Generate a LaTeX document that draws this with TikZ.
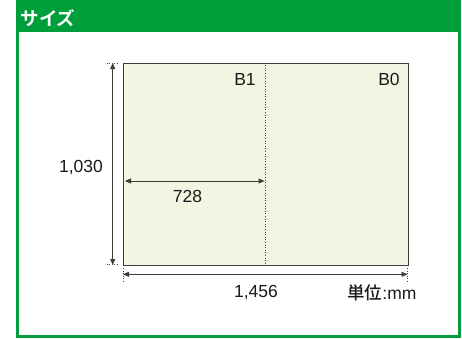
\documentclass[tikz,border=0pt]{standalone}
\usepackage{fontspec}
\setmainfont{Liberation Sans}
\newfontfamily\jpfont{Noto Sans CJK JP Medium}
\newfontfamily\jpboldfont{Noto Sans CJK JP Bold}
\usetikzlibrary{arrows.meta}
\definecolor{framegreen}{RGB}{0,158,59}
\definecolor{sheetfill}{RGB}{243,245,226}
\definecolor{linegray}{RGB}{60,60,60}
\tikzset{>/.tip={Triangle[length=6pt,width=5pt]},
  dim/.style={<->, draw=linegray, line width=0.9pt},
  ext/.style={draw=linegray, dotted, line width=0.6pt},
  lbl/.style={font=\fontsize{17.5}{19}\selectfont, text=black!90, inner sep=0pt}}

\begin{document}
\begin{tikzpicture}[x=1pt,y=-1pt]
\useasboundingbox (0,0) rectangle (462,338);
% frame and title bar
\fill[framegreen] (16,0) rectangle (461,32);
\draw[framegreen, line width=3pt] (17.5,30) -- (17.5,336) -- (459.5,336) -- (459.5,30);
\node[text=white, inner sep=0pt, font=\jpboldfont\fontsize{18.5}{20}\selectfont] (title) at (48,18) {サイズ};

% sheet
\node[draw=linegray, fill=sheetfill, line width=1pt, minimum width=285pt, minimum height=202pt, inner sep=0pt] (b0) at (265.5,164) {};
\draw[ext] (b0.north) -- (b0.south);
\node[lbl] (b1lbl) at (245,79) {B1};
\node[lbl] (b0lbl) at (389,79) {B0};

% height
\coordinate (htop) at (112.7,63);
\coordinate (hbot) at (112.7,265);
\coordinate (ht1) at (106.5,63);
\coordinate (ht2) at (119,63);
\coordinate (hb1) at (106.5,264.5);
\coordinate (hb2) at (117,264.5);
\draw[ext] (ht1) -- (ht2);
\draw[ext] (hb1) -- (hb2);
\draw[dim] (htop) -- (hbot);
\node[lbl] (hlbl) at (81,168) {1,030};

% width
\coordinate (wl) at (123,274.3);
\coordinate (wr) at (407.5,274.3);
\coordinate (wl1) at (123,268);
\coordinate (wl2) at (123,283);
\coordinate (wr1) at (407.5,268);
\coordinate (wr2) at (407.5,283);
\draw[ext] (wl1) -- (wl2);
\draw[ext] (wr1) -- (wr2);
\draw[dim] (wl) -- (wr);
\node[lbl] (wlbl) at (256,293) {1,456};
\node[lbl] (unit) at (382,293) {{\jpfont 単位}:mm};

% half width
\coordinate (hl) at (125,181);
\coordinate (hr) at (264.5,181);
\draw[dim] (hl) -- (hr);
\node[lbl] (halflbl) at (187.5,196) {728};
\end{tikzpicture}
\end{document}
